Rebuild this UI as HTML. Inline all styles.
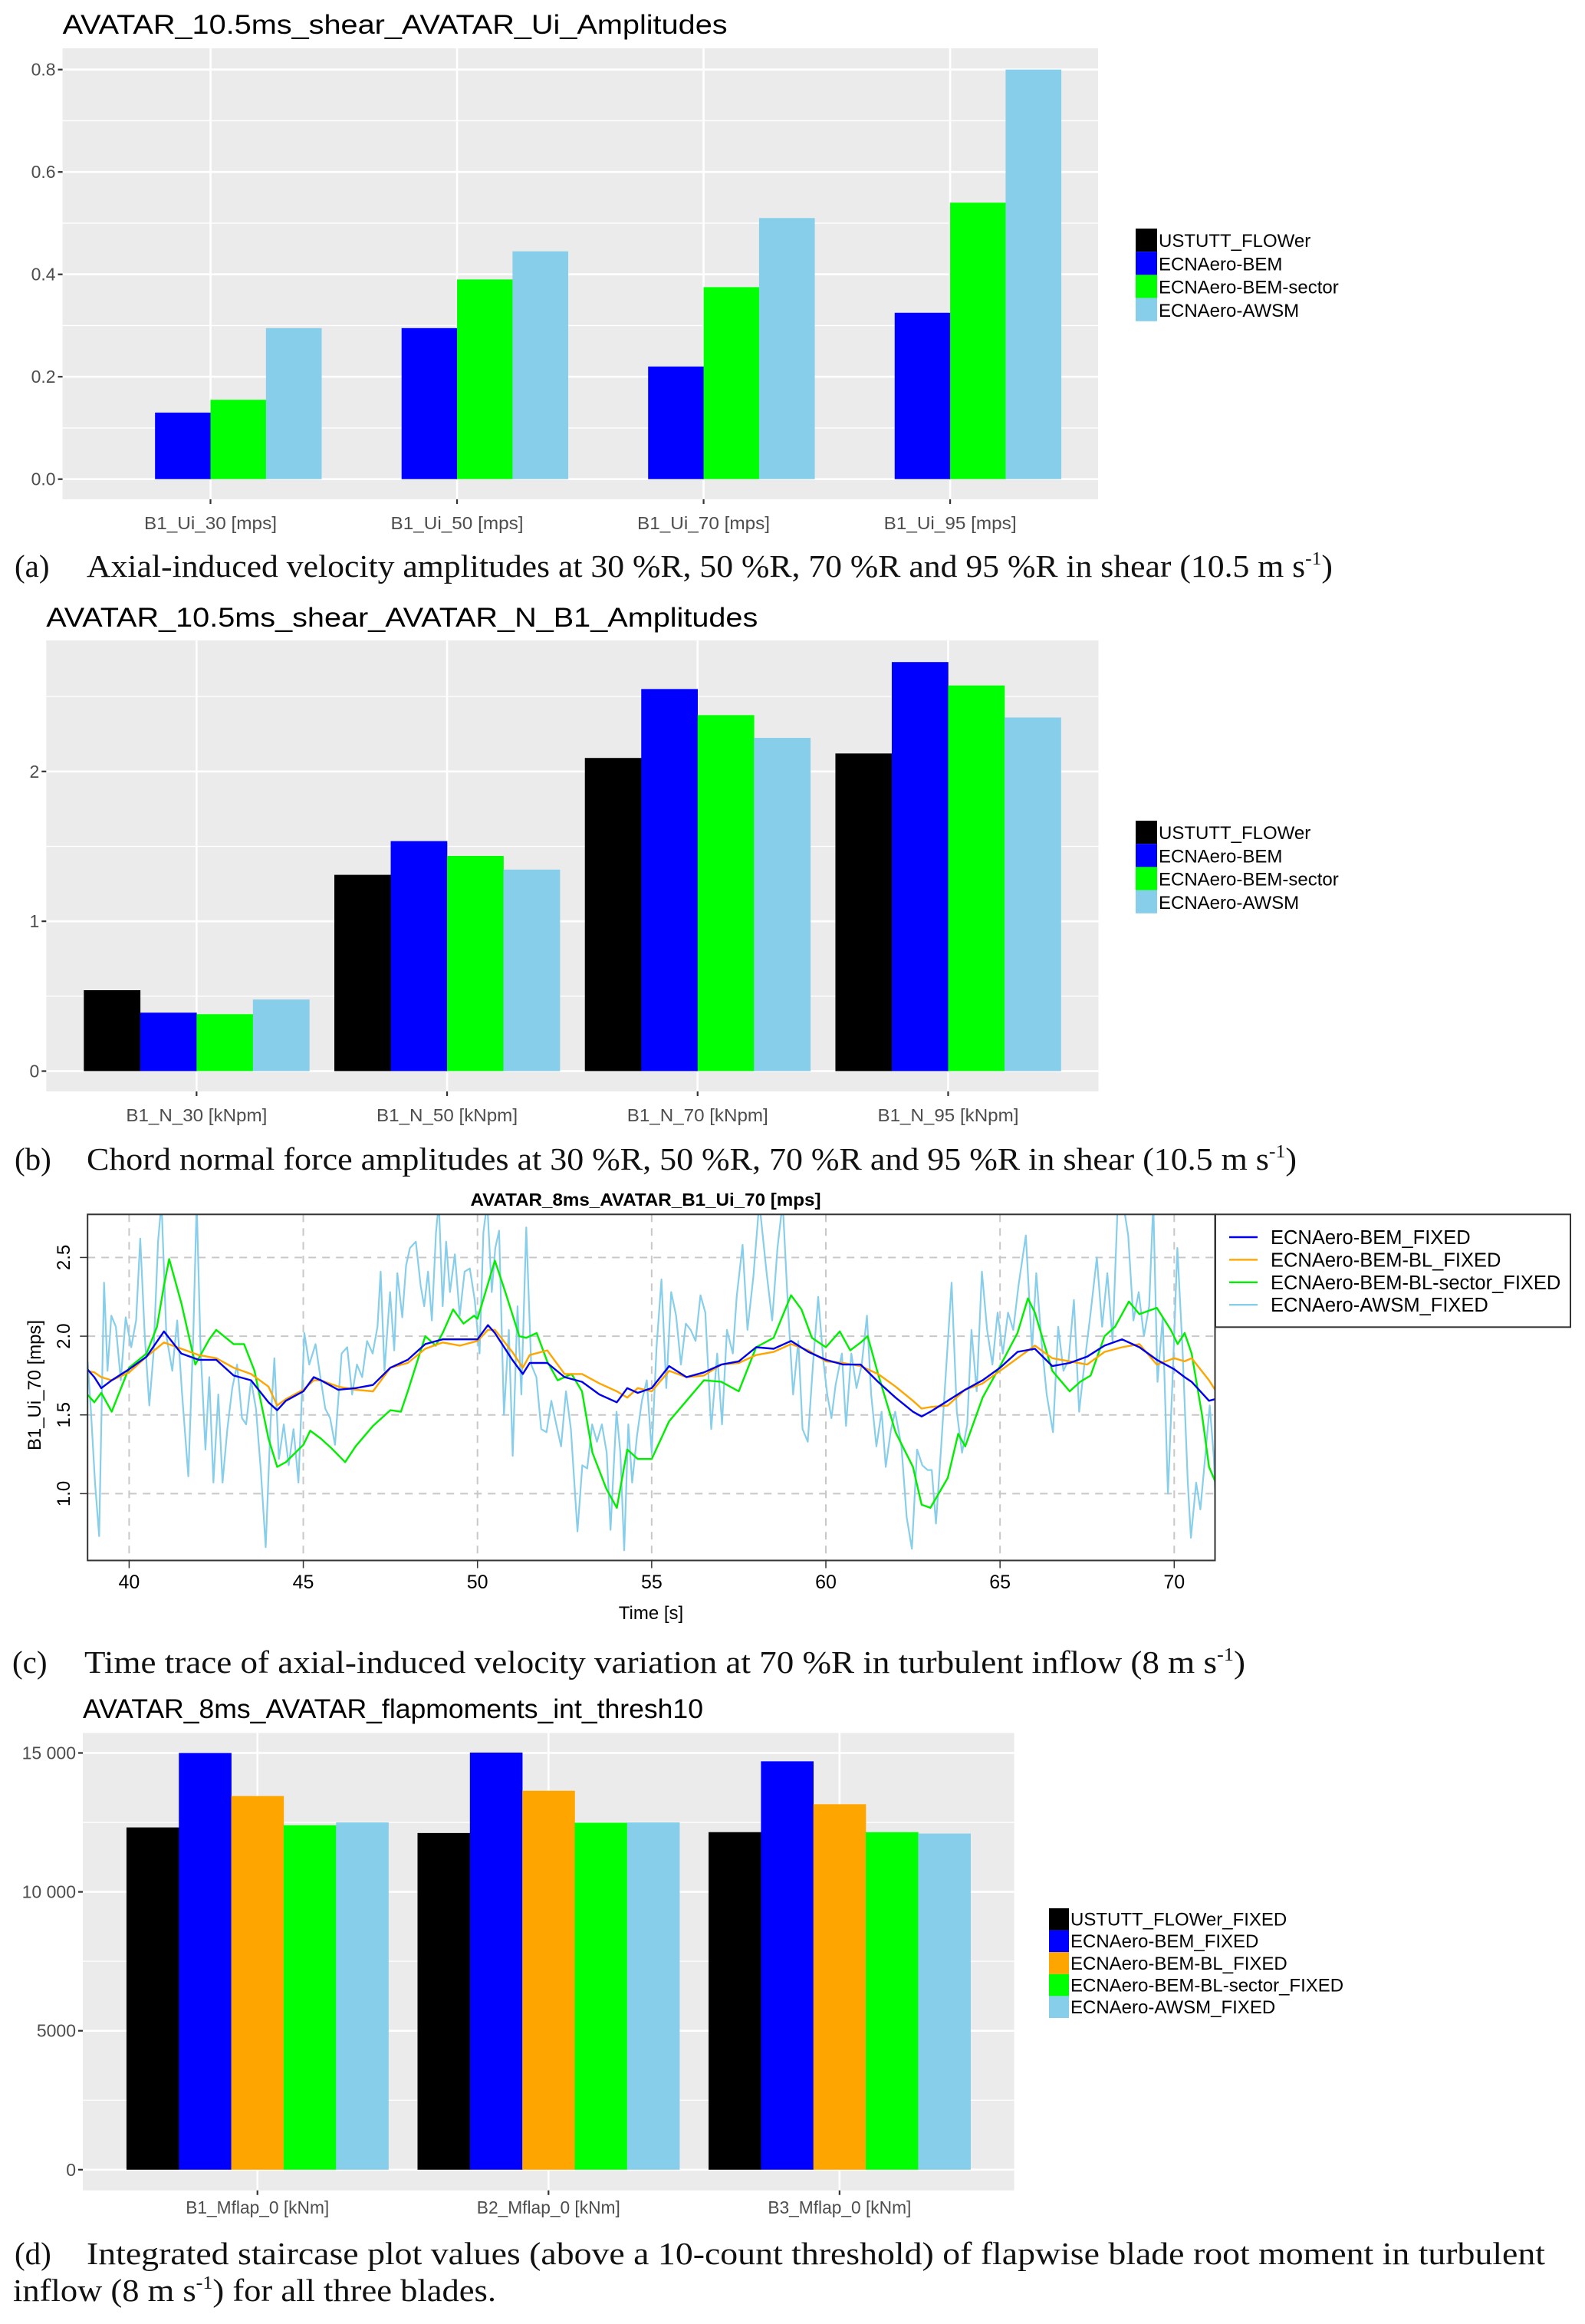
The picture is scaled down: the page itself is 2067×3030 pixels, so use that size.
<!DOCTYPE html>
<html><head><meta charset="utf-8"><style>
html,body{margin:0;padding:0;background:#fff;}
svg{display:block;}
text{font-family:"Liberation Sans",Arial,sans-serif;}
.cap{font-family:"Liberation Serif",serif;font-size:41px;fill:#111;}
</style></head><body>
<svg id="fig" xmlns="http://www.w3.org/2000/svg" width="2067" height="3030" viewBox="0 0 2067 3030">
<rect x="0" y="0" width="2067" height="3030" fill="#fff"/>
<text class="cap" x="19" y="752">(a)</text>
<text class="cap" x="113" y="752" textLength="1625" lengthAdjust="spacingAndGlyphs">Axial-induced velocity amplitudes at 30 %R, 50 %R, 70 %R and 95 %R in shear (10.5 m s<tspan font-size="24" dy="-16">-1</tspan><tspan dy="16">)</tspan></text>
<text class="cap" x="19" y="1525">(b)</text>
<text class="cap" x="113" y="1525" textLength="1578" lengthAdjust="spacingAndGlyphs">Chord normal force amplitudes at 30 %R, 50 %R, 70 %R and 95 %R in shear (10.5 m s<tspan font-size="24" dy="-16">-1</tspan><tspan dy="16">)</tspan></text>
<text class="cap" x="16" y="2181">(c)</text>
<text class="cap" x="110" y="2181" textLength="1514" lengthAdjust="spacingAndGlyphs">Time trace of axial-induced velocity variation at 70 %R in turbulent inflow (8 m s<tspan font-size="24" dy="-16">-1</tspan><tspan dy="16">)</tspan></text>
<text class="cap" x="19" y="2952">(d)</text>
<text class="cap" x="113" y="2952" textLength="1902" lengthAdjust="spacingAndGlyphs">Integrated staircase plot values (above a 10-count threshold) of flapwise blade root moment in turbulent</text>
<text class="cap" x="17" y="3000" textLength="630" lengthAdjust="spacingAndGlyphs">inflow (8 m s<tspan font-size="24" dy="-16">-1</tspan><tspan dy="16">) for all three blades.</tspan></text>
</svg>
<script>
// ---------- chart (a) data ----------
const aCategories = ["B1_Ui_30 [mps]","B1_Ui_50 [mps]","B1_Ui_70 [mps]","B1_Ui_95 [mps]"];
const aSeriesNames = ["USTUTT_FLOWer","ECNAero-BEM","ECNAero-BEM-sector","ECNAero-AWSM"];
const aFlower = [null,null,null,null];
const aBem = [0.13,0.295,0.22,0.325];
const aSector = [0.155,0.39,0.375,0.54];
const aAwsm = [0.295,0.445,0.51,0.80];
const aTicks = [0,0.2,0.4,0.6,0.8];
const aTickLabels = ["0.0","0.2","0.4","0.6","0.8"];
// ---------- chart (b) data ----------
const bCategories = ["B1_N_30 [kNpm]","B1_N_50 [kNpm]","B1_N_70 [kNpm]","B1_N_95 [kNpm]"];
const bSeriesNames = ["USTUTT_FLOWer","ECNAero-BEM","ECNAero-BEM-sector","ECNAero-AWSM"];
const bFlower = [0.54,1.31,2.09,2.12];
const bBem = [0.39,1.535,2.55,2.73];
const bSector = [0.38,1.436,2.376,2.574];
const bAwsm = [0.478,1.345,2.224,2.36];
const bTicks = [0,1,2];
const bTickLabels = ["0","1","2"];
// ---------- chart (d) data ----------
const dCategories = ["B1_Mflap_0 [kNm]","B2_Mflap_0 [kNm]","B3_Mflap_0 [kNm]"];
const dSeriesNames = ["USTUTT_FLOWer_FIXED","ECNAero-BEM_FIXED","ECNAero-BEM-BL_FIXED","ECNAero-BEM-BL-sector_FIXED","ECNAero-AWSM_FIXED"];
const dFlower = [12320,12118,12150];
const dBem = [15000,15015,14700];
const dBl = [13450,13640,13155];
const dSector = [12400,12490,12150];
const dAwsm = [12500,12500,12100];
const dTicks = [0,5000,10000,15000];
const dTickLabels = ["0","5000","10 000","15 000"];
// ---------- chart (c) data ----------
const cSeriesNames = ["ECNAero-BEM_FIXED","ECNAero-BEM-BL_FIXED","ECNAero-BEM-BL-sector_FIXED","ECNAero-AWSM_FIXED"];
const cXTicks = [40,45,50,55,60,65,70];
const cYTicks = [1.0,1.5,2.0,2.5];
const cYTickLabels = ["1.0","1.5","2.0","2.5"];
const bemTime = [38.8,39,39.2,39.5,40,40.5,41,41.5,42,42.5,43,43.5,44,44.25,44.5,45,45.3,45.5,46,46.5,47,47.5,48,48.5,49,49.5,50,50.3,50.5,51,51.3,51.5,52,52.5,53,53.5,54,54.3,54.6,55,55.5,56,56.5,57,57.5,58,58.5,59,59.5,60,60.5,61,61.5,62,62.5,62.75,63,63.5,64,64.5,65,65.5,66,66.5,67,67.5,68,68.5,69,69.5,70,70.3,70.5,71,71.17];
const bemValues = [1.79,1.74,1.67,1.72,1.79,1.87,2.03,1.89,1.85,1.85,1.75,1.72,1.58,1.53,1.59,1.65,1.74,1.72,1.66,1.67,1.69,1.80,1.85,1.95,1.98,1.98,1.98,2.07,2.02,1.85,1.76,1.83,1.83,1.74,1.71,1.63,1.58,1.67,1.64,1.67,1.81,1.74,1.77,1.82,1.84,1.93,1.92,1.97,1.90,1.85,1.82,1.82,1.71,1.61,1.52,1.49,1.52,1.59,1.66,1.72,1.80,1.90,1.92,1.81,1.83,1.87,1.94,1.98,1.93,1.85,1.79,1.74,1.71,1.59,1.60];
const blTime = [38.8,39,39.2,39.5,40,40.5,41,41.5,42,42.5,43,43.5,44,44.25,44.5,45,45.3,45.5,46,46.5,47,47.5,48,48.5,49,49.5,50,50.3,50.5,51,51.3,51.5,52,52.5,53,53.5,54,54.3,54.6,55,55.5,56,56.5,57,57.5,58,58.5,59,59.5,60,60.5,61,61.5,62,62.5,62.75,63,63.5,64,64.5,65,65.5,66,66.5,67,67.5,68,68.5,69,69.5,70,70.3,70.5,71,71.17];
const blValues = [1.78,1.77,1.74,1.72,1.77,1.87,1.96,1.92,1.88,1.86,1.80,1.76,1.68,1.56,1.60,1.66,1.72,1.72,1.68,1.66,1.65,1.80,1.83,1.92,1.96,1.94,1.97,2.04,2.04,1.90,1.80,1.88,1.91,1.76,1.76,1.70,1.65,1.61,1.67,1.65,1.78,1.74,1.75,1.82,1.83,1.88,1.90,1.95,1.91,1.84,1.83,1.81,1.76,1.68,1.59,1.54,1.55,1.56,1.66,1.70,1.78,1.86,1.94,1.86,1.84,1.82,1.90,1.93,1.95,1.82,1.86,1.84,1.86,1.72,1.66];
const sectorTime = [38.8,39,39.2,39.5,40,40.5,40.8,41,41.15,41.5,41.9,42.3,42.5,43,43.3,43.6,44,44.25,44.5,45,45.2,45.5,45.8,46.2,46.5,47,47.5,47.8,48,48.5,48.8,49,49.3,49.6,49.9,50,50.5,50.8,51.2,51.4,51.7,52,52.3,52.7,53,53.3,53.7,54,54.3,54.6,55,55.5,56,56.5,57,57.5,58,58.5,59,59.3,59.6,60,60.4,60.7,61,61.2,61.5,62,62.5,62.75,63,63.5,63.8,64,64.5,65,65.5,65.8,66,66.5,67,67.3,67.6,68,68.3,68.7,69,69.5,69.9,70.1,70.3,70.5,70.8,71,71.17];
const sectorValues = [1.63,1.58,1.64,1.52,1.80,1.89,2.06,2.32,2.49,2.21,1.82,1.98,2.04,1.95,1.95,1.78,1.35,1.17,1.20,1.31,1.40,1.35,1.29,1.20,1.30,1.43,1.53,1.52,1.65,2.00,1.94,2.02,2.17,2.08,2.13,2.11,2.48,2.28,2.00,1.99,2.02,1.84,1.72,1.76,1.65,1.26,1.03,0.91,1.28,1.22,1.22,1.46,1.59,1.72,1.71,1.65,1.93,1.99,2.26,2.17,1.99,1.93,2.03,1.91,1.96,2.00,1.76,1.39,1.17,0.93,0.91,1.10,1.38,1.30,1.61,1.81,2.02,2.24,2.15,1.78,1.65,1.71,1.75,2.00,2.06,2.22,2.14,2.18,2.04,1.95,2.02,1.89,1.50,1.17,1.08];
const awsmTime = [38.81,38.9,39.02,39.14,39.28,39.38,39.49,39.62,39.76,39.9,40.06,40.2,40.32,40.45,40.58,40.7,40.83,40.93,41.07,41.24,41.38,41.52,41.7,41.84,41.94,42.05,42.19,42.3,42.42,42.56,42.68,42.82,42.96,43.1,43.24,43.36,43.5,43.64,43.78,43.92,44.06,44.17,44.3,44.44,44.58,44.72,44.86,45.03,45.17,45.35,45.49,45.63,45.77,45.91,46.1,46.26,46.4,46.54,46.69,46.83,46.99,47.13,47.22,47.33,47.49,47.61,47.7,47.84,47.95,48.06,48.23,48.37,48.47,48.58,48.69,48.81,48.89,49.0,49.1,49.21,49.35,49.49,49.63,49.78,49.92,50.06,50.17,50.28,50.41,50.51,50.62,50.76,50.9,51.01,51.15,51.26,51.4,51.54,51.69,51.83,51.98,52.12,52.26,52.4,52.54,52.68,52.87,53.01,53.15,53.29,53.43,53.57,53.71,53.82,53.99,54.1,54.21,54.33,54.44,54.58,54.72,54.86,55.0,55.14,55.28,55.42,55.56,55.7,55.84,55.98,56.12,56.26,56.4,56.54,56.71,56.88,57.02,57.16,57.33,57.44,57.61,57.75,57.92,58.09,58.3,58.46,58.61,58.76,58.91,59.06,59.21,59.33,59.48,59.63,59.78,59.93,60.04,60.16,60.28,60.46,60.58,60.73,60.88,61.03,61.18,61.3,61.45,61.6,61.72,61.87,61.99,62.17,62.32,62.47,62.62,62.77,62.92,63.04,63.16,63.31,63.46,63.61,63.76,63.91,64.06,64.18,64.33,64.48,64.63,64.78,64.93,65.08,65.23,65.38,65.53,65.74,65.92,66.04,66.19,66.34,66.52,66.67,66.82,66.97,67.12,67.27,67.42,67.6,67.78,67.93,68.08,68.23,68.38,68.53,68.68,68.83,68.98,69.13,69.28,69.4,69.52,69.67,69.82,69.97,70.09,70.24,70.39,70.48,70.63,70.75,70.9,71.02,71.14,71.17];
const awsmValues = [1.84,1.54,1.07,0.73,2.34,1.78,2.13,2.06,1.72,2.12,1.93,2.10,2.62,2.00,1.56,1.89,2.60,2.85,2.00,1.78,2.10,1.63,1.11,2.00,2.85,1.93,1.28,1.74,1.07,1.63,1.07,1.41,1.67,1.82,1.48,1.44,1.72,1.54,1.15,0.66,1.44,1.86,1.22,1.44,1.18,1.41,1.07,2.02,1.82,1.95,1.74,1.54,1.48,1.31,1.89,1.93,1.63,1.82,1.74,1.97,1.89,2.06,2.41,1.78,2.28,1.91,2.40,2.12,2.45,2.56,2.60,2.32,2.19,2.41,2.10,2.66,2.85,2.19,2.60,2.28,2.52,2.13,2.41,2.43,2.23,1.89,2.66,2.85,2.28,2.56,2.67,1.50,2.04,1.24,2.19,1.63,2.69,1.82,1.74,1.41,1.39,1.59,1.44,1.30,1.65,1.41,0.76,1.18,1.16,1.44,1.33,1.44,1.26,0.77,1.52,1.26,0.64,1.44,1.07,1.37,1.59,1.72,1.26,1.93,2.36,1.67,2.28,2.13,1.82,2.08,2.04,1.97,2.26,2.15,1.41,1.89,1.44,2.04,1.89,2.25,2.58,2.04,2.38,2.85,2.40,2.10,2.56,2.85,2.19,1.63,1.97,1.41,1.33,1.82,2.25,1.84,1.63,1.48,1.69,1.89,1.43,1.89,1.67,1.82,2.13,1.63,1.30,1.52,1.17,1.41,1.52,1.30,0.85,0.65,1.28,1.18,1.15,1.15,0.81,1.30,1.82,2.34,1.52,1.26,1.44,2.04,1.65,2.41,2.04,1.82,2.15,1.89,2.15,2.04,2.32,2.64,1.91,2.40,1.97,1.63,1.39,2.06,1.78,1.85,2.23,1.52,1.82,2.15,2.50,2.06,2.40,1.97,2.85,2.85,2.64,2.10,2.28,2.00,2.19,2.85,1.71,2.12,1.00,1.82,2.56,1.91,1.07,0.72,1.07,0.90,1.26,1.56,1.22,1.03];

const NS = "http://www.w3.org/2000/svg";
const svg = document.getElementById("fig");
function mk(parent, tag, attrs, text) {
  const el = document.createElementNS(NS, tag);
  for (const k in attrs) el.setAttribute(k, attrs[k]);
  if (text !== undefined) el.textContent = text;
  parent.appendChild(el);
  return el;
}

// ---------- generic ggplot-style grouped bar chart ----------
function barChart(cfg) {
  const g = mk(svg, "g", {});
  
  
  const yScale = v => cfg.y0 - (v - 0) * cfg.pxPerUnit;
  const nCat = cfg.categories.length;
  const sp = (cfg.x1 - cfg.x0) / (nCat + 0.2);
  const xCenter = i => cfg.x0 + (i + 0.6) * sp;
  const nS = cfg.series.length;
  const bw = 0.9 * sp / nS;
  const t = mk(g, "text", {x: cfg.x0, y: cfg.titleY, "font-size": 35, fill: "#000", textLength: cfg.titleW, lengthAdjust: "spacingAndGlyphs"}, cfg.title);
  
  
  const bg = mk(g, "rect", {x: cfg.x0, y: cfg.top, width: cfg.x1 - cfg.x0, height: cfg.bottom - cfg.top, fill: "#ebebeb"});
  
  
  for (let i = 0; i < cfg.ticks.length; i++) {
    const mv = cfg.ticks[i] + (cfg.ticks[1] - cfg.ticks[0]) / 2;
    const yy = yScale(mv);
    if (yy < cfg.top) continue;
    const l = mk(g, "line", {x1: cfg.x0, x2: cfg.x1, y1: yy, y2: yy, stroke: "#fff", "stroke-width": 1.3});
    
    
  }
  cfg.ticks.forEach((tv, i) => {
    const yy = yScale(tv);
    const l = mk(g, "line", {x1: cfg.x0, x2: cfg.x1, y1: yy, y2: yy, stroke: "#fff", "stroke-width": 2.6});
    
    
    const tk = mk(g, "line", {x1: cfg.x0 - 6, x2: cfg.x0, y1: yy, y2: yy, stroke: "#333", "stroke-width": 2.2});
    
    
    const lb = mk(g, "text", {x: cfg.x0 - 9, y: yy + 8, "font-size": 23, fill: "#4d4d4d", "text-anchor": "end"}, cfg.tickLabels[i]);
    
    
  });
  cfg.categories.forEach((c, i) => {
    const cx = xCenter(i);
    const l = mk(g, "line", {x1: cx, x2: cx, y1: cfg.top, y2: cfg.bottom, stroke: "#fff", "stroke-width": 2.6});
    
    
    const tk = mk(g, "line", {x1: cx, x2: cx, y1: cfg.bottom, y2: cfg.bottom + 6, stroke: "#333", "stroke-width": 2.2});
    
    
    const lb = mk(g, "text", {x: cx, y: cfg.labelY, "font-size": 23, fill: "#4d4d4d", "text-anchor": "middle", textLength: cfg.labelW, lengthAdjust: "spacingAndGlyphs"}, c);
    
    
  });
  cfg.series.forEach((s, j) => {
    s.values.forEach((v, i) => {
      if (v === null) return;
      const x = xCenter(i) - 0.45 * sp + j * bw;
      const r = mk(g, "rect", {x: x, y: yScale(v), width: bw + 0.3, height: yScale(0) - yScale(v), fill: s.color});
      
      
    });
  });
  cfg.series.forEach((s, j) => {
    const ky = cfg.legY + j * cfg.legStep;
    const k = mk(g, "rect", {x: cfg.legX, y: ky, width: cfg.keyW, height: cfg.legStep, fill: s.color});
    
    
    const lt = mk(g, "text", {x: cfg.legX + cfg.keyW + 2, y: ky + cfg.legStep - 6, "font-size": 24, fill: "#000"}, s.label);
    
    
  });
}

barChart({name: "chart-a-ui-amplitudes", title: "AVATAR_10.5ms_shear_AVATAR_Ui_Amplitudes", titleY: 44, titleW: 867,
  x0: 81.6, x1: 1432, top: 63, bottom: 651, y0: 624.7, pxPerUnit: 667.5,
  ticks: aTicks, tickLabels: aTickLabels, categories: aCategories, labelY: 690, labelW: 173,
  series: [
    {key: "flower", label: aSeriesNames[0], color: "#000000", values: aFlower},
    {key: "bem", label: aSeriesNames[1], color: "#0000ff", values: aBem},
    {key: "sector", label: aSeriesNames[2], color: "#00ff00", values: aSector},
    {key: "awsm", label: aSeriesNames[3], color: "#87ceeb", values: aAwsm}],
  legX: 1481, legY: 298, legStep: 30.2, keyW: 28});

barChart({name: "chart-b-n-amplitudes", title: "AVATAR_10.5ms_shear_AVATAR_N_B1_Amplitudes", titleY: 817, titleW: 928,
  x0: 60.3, x1: 1432.5, top: 835, bottom: 1423, y0: 1396.5, pxPerUnit: 195.35,
  ticks: bTicks, tickLabels: bTickLabels, categories: bCategories, labelY: 1462, labelW: 184,
  series: [
    {key: "flower", label: bSeriesNames[0], color: "#000000", values: bFlower},
    {key: "bem", label: bSeriesNames[1], color: "#0000ff", values: bBem},
    {key: "sector", label: bSeriesNames[2], color: "#00ff00", values: bSector},
    {key: "awsm", label: bSeriesNames[3], color: "#87ceeb", values: bAwsm}],
  legX: 1481, legY: 1070, legStep: 30.2, keyW: 28});

barChart({name: "chart-d-flapmoments", title: "AVATAR_8ms_AVATAR_flapmoments_int_thresh10", titleY: 2240, titleW: 809,
  x0: 108, x1: 1322.6, top: 2259.4, bottom: 2855.8, y0: 2828.8, pxPerUnit: 181.1 / 5000,
  ticks: dTicks, tickLabels: dTickLabels, categories: dCategories, labelY: 2886, labelW: 187,
  series: [
    {key: "flower", label: dSeriesNames[0], color: "#000000", values: dFlower},
    {key: "bem", label: dSeriesNames[1], color: "#0000ff", values: dBem},
    {key: "bl", label: dSeriesNames[2], color: "#ffa500", values: dBl},
    {key: "sector", label: dSeriesNames[3], color: "#00ff00", values: dSector},
    {key: "awsm", label: dSeriesNames[4], color: "#87ceeb", values: dAwsm}],
  legX: 1368, legY: 2488, legStep: 28.6, keyW: 26});

// ---------- chart (c) time trace ----------
(function () {
  const g = mk(svg, "g", {});
  
  
  const L = 114.2, R = 1584.5, T = 1583.3, B = 2034.5;
  const xS = t => 168.4 + (t - 40) * 45.43;
  const yS = v => 1742.1 - (v - 2.0) * 205.3;
  const defs = mk(g, "defs", {});
  const cp = mk(defs, "clipPath", {id: "cclip"});
  mk(cp, "rect", {x: L, y: T, width: R - L, height: B - T});
  const ti = mk(g, "text", {x: 842, y: 1572, "font-size": 23, "font-weight": "bold", fill: "#000", "text-anchor": "middle", textLength: 457, lengthAdjust: "spacingAndGlyphs"}, "AVATAR_8ms_AVATAR_B1_Ui_70 [mps]");
  
  
  cXTicks.forEach(tv => {
    const x = xS(tv);
    const gl = mk(g, "line", {x1: x, x2: x, y1: T, y2: B, stroke: "#c8c8c8", "stroke-width": 2, "stroke-dasharray": "10,8"});
    
    
    const tk = mk(g, "line", {x1: x, x2: x, y1: B, y2: B + 10, stroke: "#333", "stroke-width": 1.5});
    
    
    const lb = mk(g, "text", {x: x, y: 2071, "font-size": 25, fill: "#000", "text-anchor": "middle"}, String(tv));
    
    
  });
  cYTicks.forEach((tv, i) => {
    const y = yS(tv);
    const gl = mk(g, "line", {x1: L, x2: R, y1: y, y2: y, stroke: "#c8c8c8", "stroke-width": 2, "stroke-dasharray": "10,8"});
    
    
    const tk = mk(g, "line", {x1: L - 10, x2: L, y1: y, y2: y, stroke: "#333", "stroke-width": 1.5});
    
    
    const lb = mk(g, "text", {x: 0, y: 0, "font-size": 24, fill: "#000", "text-anchor": "middle", transform: "translate(91," + y + ") rotate(-90)"}, cYTickLabels[i]);
    
    
  });
  const xl = mk(g, "text", {x: 849, y: 2111, "font-size": 24, fill: "#000", "text-anchor": "middle"}, "Time [s]");
  
  
  const yl = mk(g, "text", {x: 0, y: 0, "font-size": 24, fill: "#000", "text-anchor": "middle", transform: "translate(53,1806) rotate(-90)", textLength: 170, lengthAdjust: "spacingAndGlyphs"}, "B1_Ui_70 [mps]");
  
  
  const lines = [
    {key: "awsm", t: awsmTime, v: awsmValues, color: "#87ceeb", w: 2.2},
    {key: "sector", t: sectorTime, v: sectorValues, color: "#00ee00", w: 2.4},
    {key: "bl", t: blTime, v: blValues, color: "#ffa500", w: 2.4},
    {key: "bem", t: bemTime, v: bemValues, color: "#0000ee", w: 2.4}];
  const lg = mk(g, "g", {"clip-path": "url(#cclip)"});
  lines.forEach(s => {
    const pts = s.t.map((tt, i) => xS(tt).toFixed(1) + "," + yS(s.v[i]).toFixed(1)).join(" ");
    const pl = mk(lg, "polyline", {points: pts, fill: "none", stroke: s.color, "stroke-width": s.w, "stroke-linejoin": "round"});
    
    
  });
  const box = mk(g, "rect", {x: L, y: T, width: R - L, height: B - T, fill: "none", stroke: "#333", "stroke-width": 2});
  
  
  const lbox = mk(g, "rect", {x: 1585, y: 1583.3, width: 463, height: 147, fill: "#fff", stroke: "#333", "stroke-width": 2});
  
  
  const lcol = ["#0000ee", "#ffa500", "#00ee00", "#87ceeb"];
  cSeriesNames.forEach((n, i) => {
    const y = 1613 + i * 29.4;
    const ll = mk(g, "line", {x1: 1603, x2: 1640, y1: y, y2: y, stroke: lcol[i], "stroke-width": 2.4});
    
    
    const lt = mk(g, "text", {x: 1657, y: y + 9, "font-size": 25.5, fill: "#000"}, n);
    
    
  });
})();
</script>
</body></html>
